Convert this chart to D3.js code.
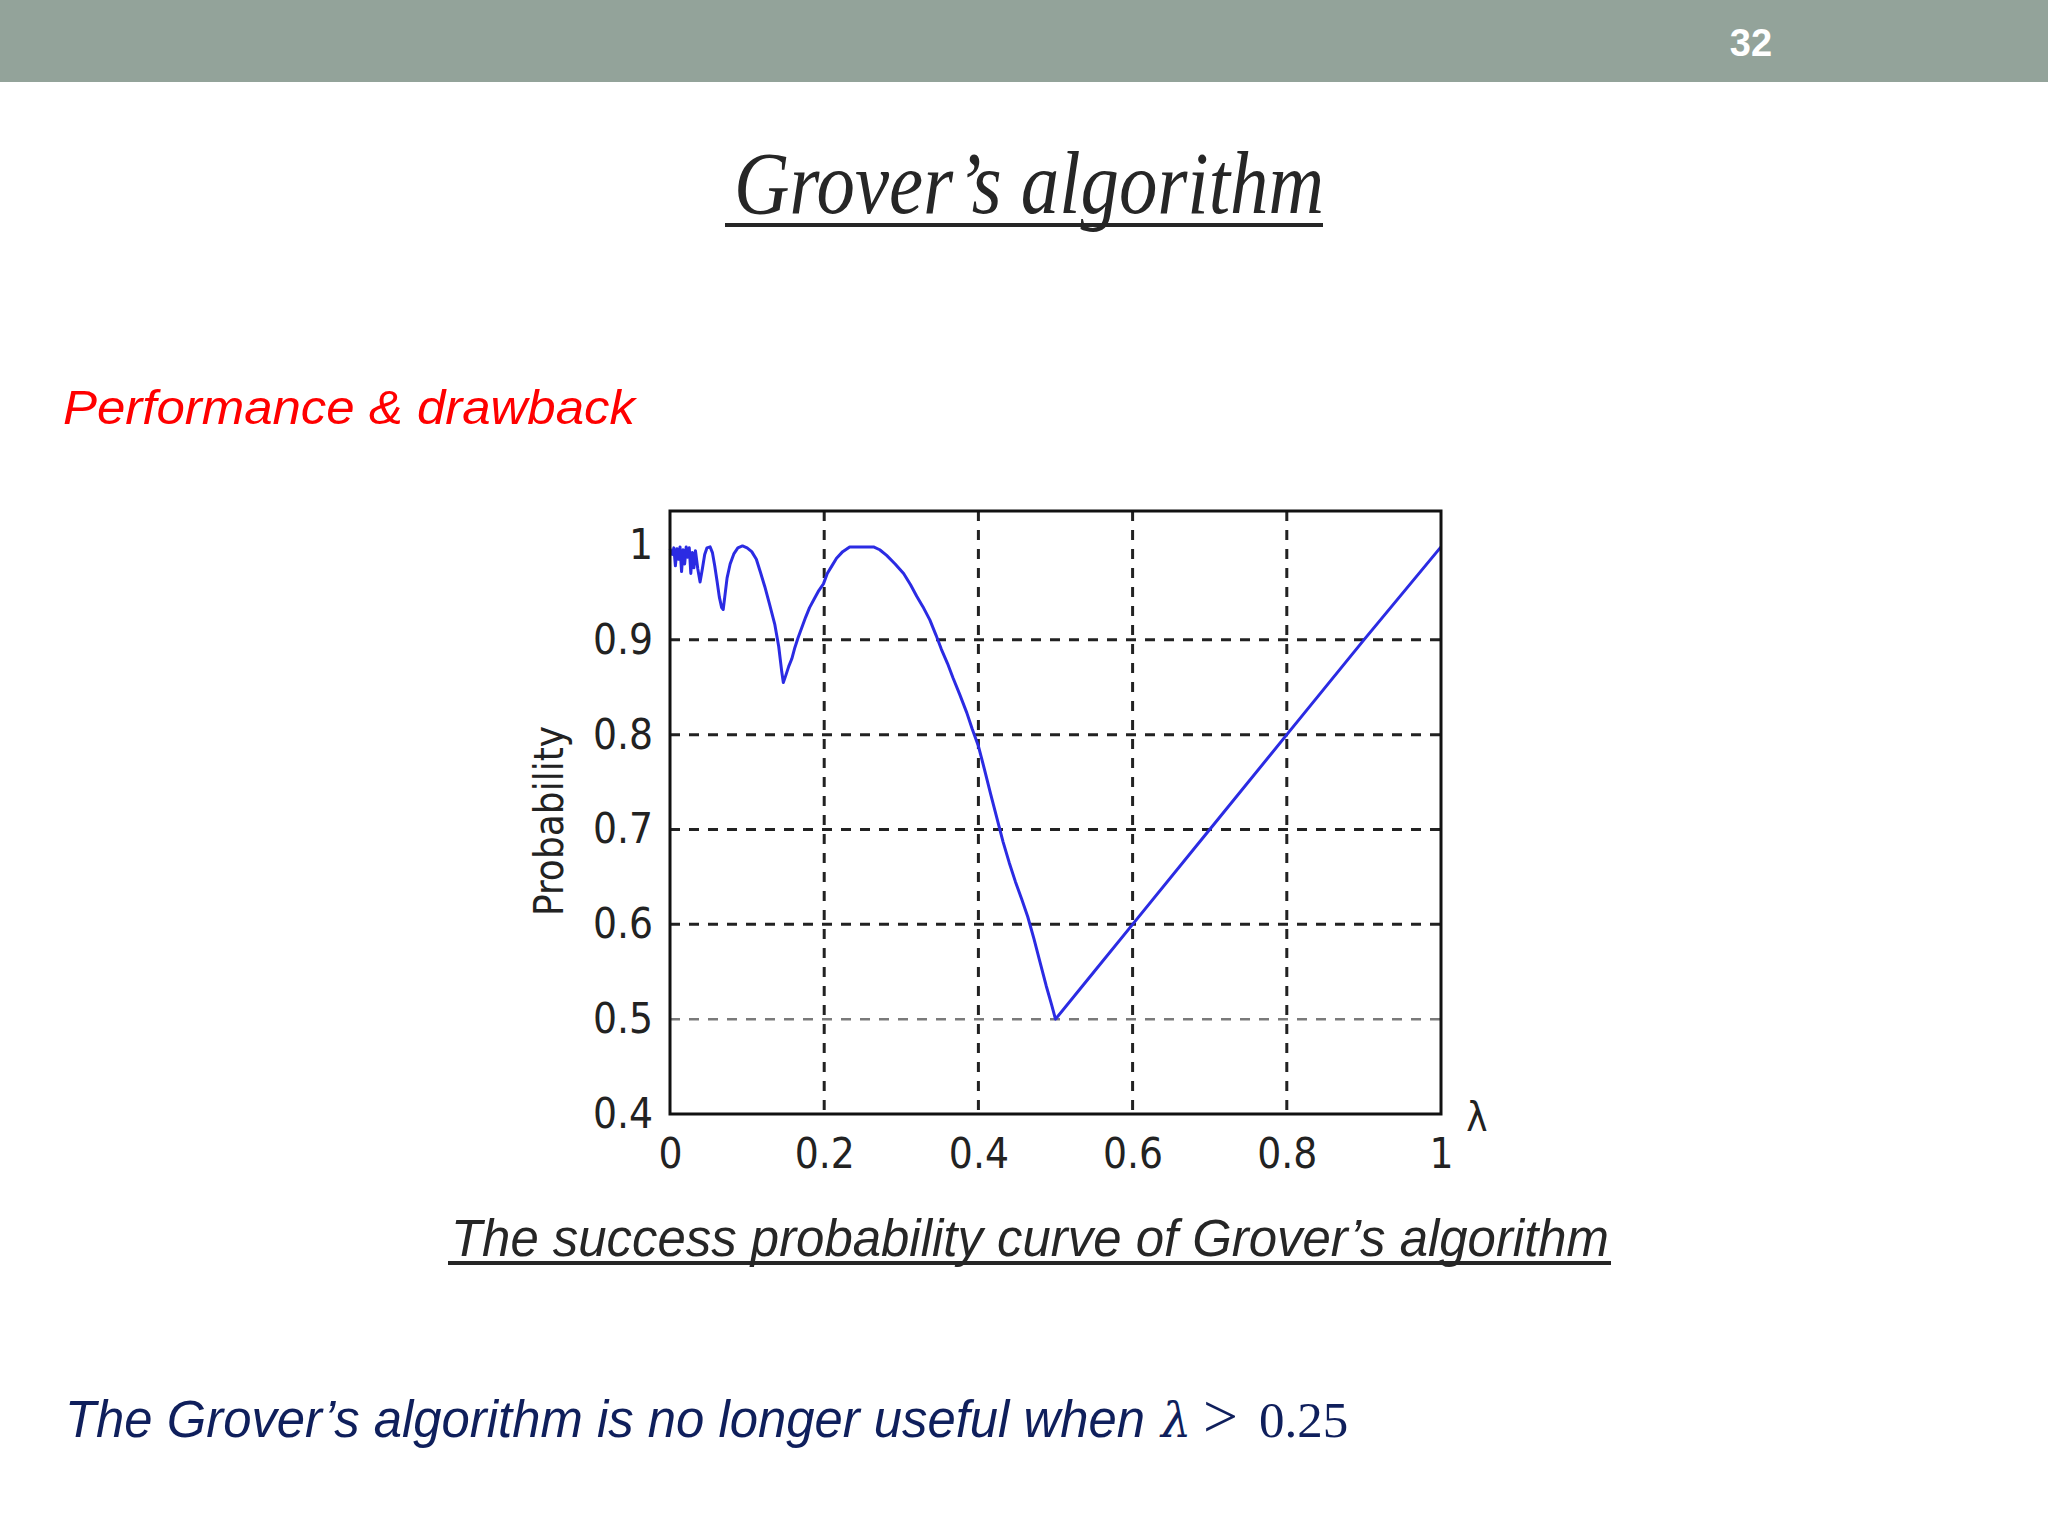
<!DOCTYPE html>
<html>
<head>
<meta charset="utf-8">
<title>Grover's algorithm</title>
<script src="https://cdn.jsdelivr.net/npm/d3@7"></script>
<style>
  html, body { margin: 0; padding: 0; background: #fff; }
  svg { display: block; }
</style>
</head>
<body>
<div id="slide"></div>
<script>
// ------------------------------------------------------------
// Success probability curve of Grover's algorithm
// ------------------------------------------------------------

// lambda = M/N
const lambdaVals = [
  0.000, 0.003, 0.005, 0.007, 0.009, 0.011, 0.013, 0.015, 0.017, 0.019,
  0.021, 0.023, 0.025, 0.027, 0.029, 0.031, 0.033, 0.036, 0.039, 0.042,
  0.045, 0.048, 0.052, 0.055, 0.058, 0.061, 0.064, 0.067, 0.069, 0.071,
  0.074, 0.078, 0.083, 0.088, 0.094, 0.100, 0.106, 0.112, 0.117, 0.123,
  0.129, 0.136, 0.141, 0.145, 0.147, 0.150, 0.154, 0.158, 0.162, 0.166,
  0.171, 0.176, 0.181, 0.187, 0.193, 0.199, 0.204, 0.210, 0.216, 0.224,
  0.233, 0.248, 0.264, 0.272, 0.281, 0.292, 0.303, 0.312, 0.320, 0.328,
  0.337, 0.345, 0.352, 0.360, 0.367, 0.376, 0.385, 0.392, 0.400, 0.408,
  0.416, 0.424, 0.432, 0.440, 0.448, 0.456, 0.464, 0.472, 0.480, 0.488,
  0.495, 0.500, 0.550, 0.600, 0.700, 0.800, 0.900, 1.000
];

// success probability
const probVals = [
  0.996, 0.990, 0.997, 0.978, 0.996, 0.985, 0.998, 0.972, 0.995, 0.980,
  0.998, 0.987, 0.997, 0.970, 0.992, 0.976, 0.994, 0.975, 0.961, 0.975,
  0.990, 0.997, 0.998, 0.992, 0.978, 0.962, 0.945, 0.934, 0.932, 0.945,
  0.965, 0.980, 0.991, 0.997, 0.999, 0.997, 0.993, 0.985, 0.972, 0.956,
  0.938, 0.916, 0.893, 0.866, 0.855, 0.862, 0.872, 0.880, 0.892, 0.902,
  0.913, 0.924, 0.934, 0.943, 0.952, 0.959, 0.970, 0.978, 0.986, 0.993,
  0.998, 0.998, 0.998, 0.995, 0.989, 0.980, 0.970, 0.958, 0.946, 0.935,
  0.921, 0.905, 0.890, 0.875, 0.860, 0.842, 0.823, 0.806, 0.788, 0.763,
  0.737, 0.712, 0.687, 0.665, 0.645, 0.627, 0.608, 0.585, 0.560, 0.535,
  0.515, 0.500, 0.550, 0.600, 0.700, 0.800, 0.900, 0.998
];

const xTicks = [0, 0.2, 0.4, 0.6, 0.8, 1];
const xTickLabels = ['0', '0.2', '0.4', '0.6', '0.8', '1'];
const yTicks = [0.4, 0.5, 0.6, 0.7, 0.8, 0.9, 1];
const yTickLabels = ['0.4', '0.5', '0.6', '0.7', '0.8', '0.9', '1'];
const xGrid = [0.2, 0.4, 0.6, 0.8];
const yGrid = [0.5, 0.6, 0.7, 0.8, 0.9];

const W = 2048, H = 1536;
const plot = { left: 670, right: 1441, top: 511, bottom: 1114 };
const TICK_FONT = '"DejaVu Sans Condensed", "DejaVu Sans", sans-serif';

const svg = d3.select('#slide').append('svg')
  .attr('width', W).attr('height', H)
  .attr('viewBox', `0 0 ${W} ${H}`);

// header band + page number
svg.append('rect').attr('x', 0).attr('y', 0).attr('width', W).attr('height', 82)
  .attr('fill', '#93a39a');
svg.append('text').attr('x', 1751).attr('y', 56)
  .attr('text-anchor', 'middle')
  .attr('font-family', '"Liberation Sans", Arial, sans-serif')
  .attr('font-weight', 'bold').attr('font-size', 38).attr('fill', '#fff')
  .text('32');

// title
svg.append('text').attr('x', 734).attr('y', 213)
  .attr('font-family', '"Liberation Serif", "DejaVu Serif", serif')
  .attr('font-style', 'italic').attr('font-size', 88).attr('fill', '#262626')
  .attr('textLength', 590).attr('lengthAdjust', 'spacingAndGlyphs')
  .text('Grover\u2019s algorithm');
svg.append('rect').attr('x', 725).attr('y', 223).attr('width', 598).attr('height', 4)
  .attr('fill', '#262626');

// subheading
svg.append('text').attr('x', 63).attr('y', 424)
  .attr('font-family', '"Liberation Sans", Arial, sans-serif')
  .attr('font-style', 'italic').attr('font-size', 49).attr('fill', '#ff0000')
  .attr('textLength', 572).attr('lengthAdjust', 'spacingAndGlyphs')
  .text('Performance & drawback');

// ---- chart ----
const x = d3.scaleLinear().domain([0, 1]).range([plot.left, plot.right]);
const y = d3.scaleLinear().domain([0.4, 1]).range([plot.bottom, 545]);

const grid = svg.append('g');
grid.selectAll('line.vg').data(xGrid).join('line')
  .attr('class', 'vg')
  .attr('x1', d => x(d)).attr('x2', d => x(d))
  .attr('y1', plot.top).attr('y2', plot.bottom)
  .attr('stroke', '#222').attr('stroke-width', 3)
  .attr('stroke-dasharray', '10,9');
grid.selectAll('line.hg').data(yGrid).join('line')
  .attr('class', 'hg')
  .attr('x1', plot.left).attr('x2', plot.right)
  .attr('y1', d => y(d)).attr('y2', d => y(d))
  .attr('stroke', d => d === 0.5 ? '#7a7a7a' : '#222')
  .attr('stroke-width', d => d === 0.5 ? 2.5 : 3)
  .attr('stroke-dasharray', '10,9');

// curve
const pts = lambdaVals.map((l, i) => [l, probVals[i]]);
const line = d3.line().x(d => x(d[0])).y(d => y(d[1]));
svg.append('path').datum(pts)
  .attr('d', line)
  .attr('fill', 'none')
  .attr('stroke', '#2b2be3')
  .attr('stroke-width', 3)
  .attr('stroke-linejoin', 'round');

// frame
svg.append('rect')
  .attr('x', plot.left).attr('y', plot.top)
  .attr('width', plot.right - plot.left).attr('height', plot.bottom - plot.top)
  .attr('fill', 'none').attr('stroke', '#111').attr('stroke-width', 3);

// axes (labels only)
const yAxis = svg.append('g')
  .attr('transform', `translate(${plot.left},0)`)
  .call(d3.axisLeft(y).tickValues(yTicks)
    .tickFormat((d, i) => yTickLabels[i]).tickSize(0).tickPadding(17));
const xAxis = svg.append('g')
  .attr('transform', `translate(0,${plot.bottom})`)
  .call(d3.axisBottom(x).tickValues(xTicks)
    .tickFormat((d, i) => xTickLabels[i]).tickSize(0).tickPadding(24));
[yAxis, xAxis].forEach(a => {
  a.select('.domain').remove();
  a.selectAll('text')
    .attr('font-family', TICK_FONT)
    .attr('font-stretch', 'condensed')
    .attr('font-size', 42)
    .attr('fill', '#222');
});

// axis titles
svg.append('text')
  .attr('transform', 'translate(563,821) rotate(-90)')
  .attr('text-anchor', 'middle')
  .attr('font-family', TICK_FONT).attr('font-stretch', 'condensed')
  .attr('font-size', 40).attr('fill', '#222')
  .text('Probability');
svg.append('text').attr('x', 1477).attr('y', 1131)
  .attr('text-anchor', 'middle')
  .attr('font-family', TICK_FONT).attr('font-stretch', 'condensed')
  .attr('font-size', 40).attr('fill', '#222')
  .text('\u03bb');

// caption
svg.append('text').attr('x', 451).attr('y', 1256)
  .attr('font-family', '"Liberation Sans", Arial, sans-serif')
  .attr('font-style', 'italic').attr('font-size', 51).attr('fill', '#262626')
  .attr('textLength', 1158).attr('lengthAdjust', 'spacingAndGlyphs')
  .text('The success probability curve of Grover\u2019s algorithm');
svg.append('rect').attr('x', 448).attr('y', 1261).attr('width', 1163).attr('height', 4)
  .attr('fill', '#262626');

// conclusion line
const NAVY = '#0f1f5c';
svg.append('text').attr('x', 65).attr('y', 1437)
  .attr('font-family', '"Liberation Sans", Arial, sans-serif')
  .attr('font-style', 'italic').attr('font-size', 51).attr('fill', NAVY)
  .attr('textLength', 1080).attr('lengthAdjust', 'spacingAndGlyphs')
  .text('The Grover\u2019s algorithm is no longer useful when');
svg.append('text').attr('x', 1161).attr('y', 1437)
  .attr('font-family', '"DejaVu Serif", "Liberation Serif", serif')
  .attr('font-style', 'italic').attr('font-size', 48).attr('fill', NAVY)
  .text('\u03bb');
svg.append('text').attr('x', 1203).attr('y', 1437)
  .attr('font-family', '"Liberation Serif", serif')
  .attr('font-size', 62).attr('fill', NAVY)
  .text('>');
svg.append('text').attr('x', 1259).attr('y', 1437)
  .attr('font-family', '"Liberation Serif", serif')
  .attr('font-size', 51).attr('fill', NAVY)
  .text('0.25');
</script>
</body>
</html>
